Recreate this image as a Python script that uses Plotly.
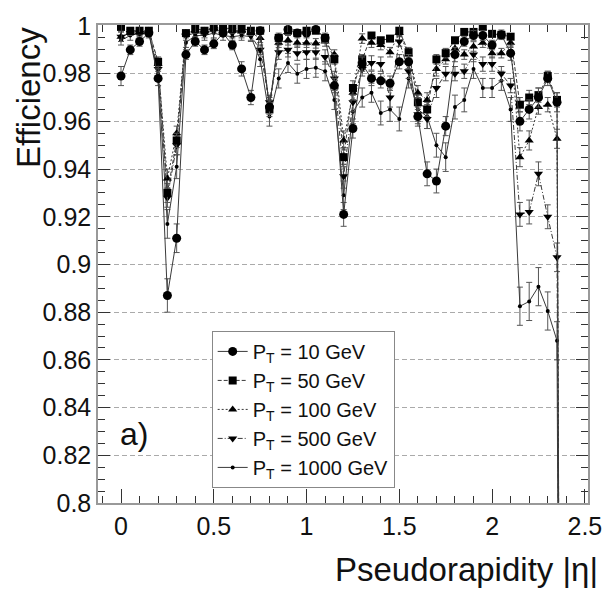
import plotly.graph_objects as go

eta = [0.00, 0.05, 0.10, 0.15, 0.20, 0.25, 0.30, 0.35, 0.40, 0.45,
       0.50, 0.55, 0.60, 0.65, 0.70, 0.75, 0.80, 0.85, 0.90, 0.95,
       1.00, 1.05, 1.10, 1.15, 1.20, 1.25, 1.30, 1.35, 1.40, 1.45,
       1.50, 1.55, 1.60, 1.65, 1.70, 1.75, 1.80, 1.85, 1.90, 1.95,
       2.00, 2.05, 2.10, 2.15, 2.20, 2.25, 2.30, 2.35, 2.40]

eff10 = [0.979, 0.990, 0.9935, 0.997, 0.978, 0.887, 0.911, 0.988, 0.9935, 0.990,
         0.9925, 0.997, 0.992, 0.982, 0.970, 0.998, 0.966, 0.995, 0.9985, 0.997,
         0.997, 0.9985, 0.995, 0.975, 0.921, 0.957, 0.984, 0.978, 0.977, 0.976,
         0.985, 0.985, 0.962, 0.938, 0.935, 0.958, 0.988, 0.9935, 0.996, 0.996,
         0.992, 0.9963, 0.9886, 0.960, 0.965, 0.970, 0.978, 0.968, 0.0]
eff50 = [0.9996, 0.998, 0.998, 0.998, 0.985, 0.930, 0.952, 0.997, 0.999, 0.998,
         0.9995, 0.999, 0.999, 0.999, 0.998, 0.998, 0.965, 0.995, 0.998, 0.997,
         0.998, 0.998, 0.995, 0.986, 0.945, 0.974, 0.986, 0.996, 0.994, 0.9947,
         0.998, 0.989, 0.968, 0.965, 0.986, 0.9886, 0.994, 0.9975, 0.9975, 0.9996,
         0.9967, 0.9963, 0.9955, 0.967, 0.970, 0.971, 0.979, 0.969, 0.0]
eff100 = [0.9955, 0.997, 0.9975, 0.998, 0.984, 0.936, 0.955, 0.997, 0.998, 0.998,
          0.999, 0.998, 0.998, 0.998, 0.997, 0.995, 0.967, 0.993, 0.994, 0.993,
          0.993, 0.9927, 0.9935, 0.988, 0.952, 0.972, 0.9947, 0.993, 0.992, 0.989,
          0.997, 0.988, 0.972, 0.969, 0.982, 0.986, 0.9906, 0.988, 0.9914, 0.993,
          0.9886, 0.9886, 0.993, 0.945, 0.952, 0.966, 0.967, 0.9527, 0.0]
eff500 = [0.9955, 0.997, 0.997, 0.997, 0.982, 0.928, 0.950, 0.996, 0.997, 0.997,
          0.998, 0.998, 0.997, 0.997, 0.996, 0.990, 0.968, 0.989, 0.990, 0.9886,
          0.989, 0.989, 0.987, 0.978, 0.937, 0.968, 0.982, 0.9845, 0.984, 0.970,
          0.9935, 0.981, 0.963, 0.961, 0.974, 0.980, 0.980, 0.981, 0.988, 0.984,
          0.984, 0.980, 0.975, 0.921, 0.922, 0.938, 0.920, 0.903, 0.0]
eff1000 = [0.994, 0.996, 0.997, 0.997, 0.980, 0.917, 0.941, 0.993, 0.996, 0.996,
           0.997, 0.996, 0.9955, 0.996, 0.9955, 0.986, 0.962, 0.978, 0.9845, 0.980,
           0.982, 0.9825, 0.981, 0.969, 0.929, 0.964, 0.970, 0.972, 0.9635, 0.965,
           0.961, 0.978, 0.965, 0.962, 0.950, 0.945, 0.966, 0.969, 0.982, 0.974,
           0.974, 0.977, 0.965, 0.8825, 0.8845, 0.8907, 0.8805, 0.868, 0.0]

err10 = [0.004, 0.002, 0.002, 0.001, 0.003, 0.007, 0.006, 0.002, 0.002, 0.002,
         0.002, 0.001, 0.002, 0.003, 0.003, 0.001, 0.003, 0.002, 0.001, 0.001,
         0.001, 0.001, 0.002, 0.003, 0.005, 0.004, 0.003, 0.003, 0.003, 0.003,
         0.003, 0.003, 0.004, 0.005, 0.005, 0.004, 0.003, 0.002, 0.002, 0.002,
         0.002, 0.002, 0.003, 0.004, 0.004, 0.004, 0.003, 0.004, 0.0]
err50 = [0.001, 0.001, 0.001, 0.001, 0.002, 0.004, 0.003, 0.001, 0.001, 0.001,
         0.001, 0.001, 0.001, 0.001, 0.001, 0.001, 0.003, 0.001, 0.001, 0.001,
         0.001, 0.001, 0.001, 0.002, 0.004, 0.003, 0.002, 0.001, 0.001, 0.001,
         0.001, 0.002, 0.003, 0.003, 0.002, 0.002, 0.001, 0.001, 0.001, 0.001,
         0.001, 0.001, 0.001, 0.003, 0.003, 0.003, 0.002, 0.003, 0.0]
err100 = [0.002, 0.001, 0.001, 0.001, 0.002, 0.004, 0.003, 0.001, 0.001, 0.001,
          0.001, 0.001, 0.001, 0.001, 0.001, 0.002, 0.003, 0.002, 0.002, 0.002,
          0.002, 0.002, 0.002, 0.002, 0.004, 0.003, 0.002, 0.002, 0.002, 0.002,
          0.001, 0.002, 0.003, 0.003, 0.003, 0.002, 0.002, 0.002, 0.002, 0.002,
          0.002, 0.002, 0.002, 0.004, 0.004, 0.003, 0.003, 0.004, 0.0]
err500 = [0.002, 0.001, 0.001, 0.001, 0.003, 0.004, 0.004, 0.002, 0.002, 0.002,
          0.001, 0.001, 0.002, 0.002, 0.002, 0.002, 0.003, 0.003, 0.003, 0.003,
          0.003, 0.003, 0.003, 0.003, 0.005, 0.004, 0.003, 0.003, 0.003, 0.004,
          0.002, 0.003, 0.004, 0.004, 0.004, 0.003, 0.003, 0.003, 0.003, 0.003,
          0.003, 0.003, 0.003, 0.005, 0.005, 0.005, 0.005, 0.006, 0.0]
err1000 = [0.002, 0.002, 0.002, 0.002, 0.003, 0.006, 0.005, 0.002, 0.002, 0.002,
           0.002, 0.002, 0.002, 0.002, 0.002, 0.003, 0.004, 0.004, 0.004, 0.004,
           0.004, 0.004, 0.004, 0.004, 0.006, 0.005, 0.004, 0.004, 0.005, 0.005,
           0.005, 0.004, 0.005, 0.005, 0.005, 0.006, 0.005, 0.005, 0.004, 0.004,
           0.004, 0.004, 0.005, 0.008, 0.008, 0.008, 0.008, 0.008, 0.0]

series_names = ["P<sub>T</sub> = 10 GeV", "P<sub>T</sub> = 50 GeV", "P<sub>T</sub> = 100 GeV",
                "P<sub>T</sub> = 500 GeV", "P<sub>T</sub> = 1000 GeV"]
series_vals = [eff10, eff50, eff100, eff500, eff1000]
series_errs = [err10, err50, err100, err500, err1000]
symbols = ["circle", "square", "triangle-up", "triangle-down", "circle"]
msizes = [9, 8, 8, 8, 4]
dashes = ["solid", "4px,2px", "2px,2px", "5px,2px,1px,2px", "solid"]

xtick_vals = [0, 0.5, 1, 1.5, 2, 2.5]
xtick_text = ["0", "0.5", "1", "1.5", "2", "2.5"]
ytick_vals = [0.8, 0.82, 0.84, 0.86, 0.88, 0.9, 0.92, 0.94, 0.96, 0.98, 1.0]
ytick_text = ["0.8", "0.82", "0.84", "0.86", "0.88", "0.9", "0.92", "0.94", "0.96", "0.98", "1"]

FONT = "Liberation Sans, Arial, Helvetica, sans-serif"

fig = go.Figure()
order = [4, 3, 2, 1, 0]
for k in order:
    fig.add_trace(go.Scatter(
        x=eta, y=series_vals[k], name=series_names[k], mode="lines+markers",
        line=dict(color="#3a3a3a", width=1, dash=dashes[k]),
        marker=dict(symbol=symbols[k], size=msizes[k], color="black"),
        error_y=dict(type="data", array=series_errs[k], thickness=1, width=3, color="#555"),
        legendrank=k + 1, legendgroup=str(k),
    ))

axis_common = dict(
    showline=True, linecolor="#999", linewidth=1.5, mirror="allticks",
    ticks="inside", tickcolor="#333", tickwidth=1,
    tickfont=dict(family=FONT, size=25, color="#111"),
    zeroline=False,
)

fig.update_xaxes(**axis_common, range=[-0.124, 2.517], tickvals=xtick_vals, ticktext=xtick_text,
                 ticklen=14, showgrid=False,
                 minor=dict(dtick=0.1, tick0=0, ticks="inside", ticklen=7, tickcolor="#333", showgrid=False))
fig.update_yaxes(**axis_common, range=[0.8, 1.0004], tickvals=ytick_vals, ticktext=ytick_text,
                 ticklen=12, showgrid=True, gridcolor="#aaa", gridwidth=1, griddash="5px,3px",
                 minor=dict(dtick=0.005, tick0=0.8, ticks="inside", ticklen=7, tickcolor="#333", showgrid=False))

fig.add_annotation(text="Efficiency", xref="paper", yref="paper", x=-0.142, y=1.0,
                   xanchor="center", yanchor="top", textangle=-90, showarrow=False,
                   font=dict(family=FONT, size=33, color="#111"))
fig.add_annotation(text="Pseudorapidity |η|", xref="paper", yref="paper", x=1.024, y=-0.14,
                   xanchor="right", yanchor="middle", showarrow=False,
                   font=dict(family=FONT, size=33, color="#111"))
fig.add_annotation(text="a)", xref="paper", yref="paper", x=0.04, y=0.145,
                   xanchor="left", yanchor="middle", showarrow=False,
                   font=dict(family=FONT, size=32, color="#111"))

fig.update_layout(
    width=614, height=589,
    margin=dict(l=98, r=16, t=14, b=86),
    paper_bgcolor="white", plot_bgcolor="white",
    showlegend=True,
    legend=dict(x=0.232, y=0.36, xanchor="left", yanchor="top",
                bgcolor="white", bordercolor="#888", borderwidth=1,
                font=dict(family=FONT, size=20, color="#111"),
                tracegroupgap=0, itemwidth=30),
)

fig.write_html("out.html")
